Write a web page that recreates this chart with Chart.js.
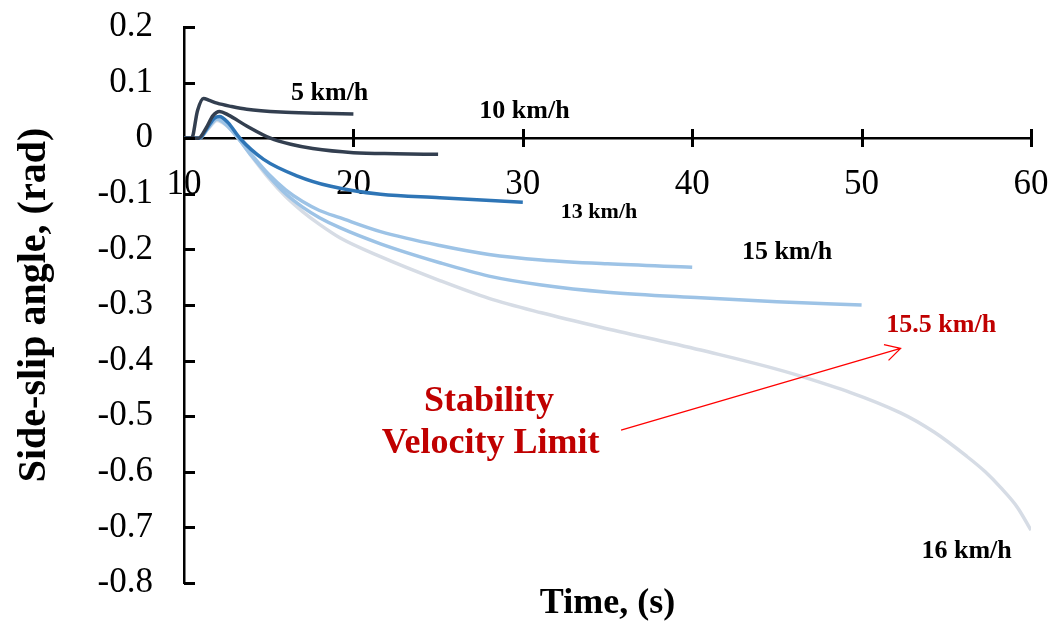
<!DOCTYPE html>
<html>
<head>
<meta charset="utf-8">
<script src="https://cdn.jsdelivr.net/npm/chart.js@4.4.1/dist/chart.umd.min.js"></script>
<style>
  body { margin: 0; background: #fff; }
  #wrap { width: 1058px; height: 626px; position: relative; }
</style>
</head>
<body>
<div id="wrap"><canvas id="slipChart"></canvas></div>
<script>
// time (s) and side-slip angle (rad) for each forward speed
const t5 = [10, 10.45, 10.8, 11.15, 11.5, 11.95, 12.8, 13.7, 15.7, 18, 20];
const b5 = [0, 0, 0.05, 0.0715, 0.068, 0.063, 0.057, 0.052, 0.047, 0.045, 0.0435];

const t10 = [10, 10.85, 11.3, 11.7, 12.1, 12.6, 13.7, 15.1, 16.3, 17.6, 20, 22.5, 25];
const b10 = [0, 0, 0.018, 0.04, 0.048, 0.042, 0.022, 0, -0.011, -0.0186, -0.026, -0.028, -0.029];

const t13 = [10, 10.9, 11.4, 11.8, 12.1, 12.6, 13.3, 14.7, 16.7, 18.6, 21.6, 25.1, 30];
const b13 = [0, 0, 0.02, 0.036, 0.039, 0.028, 0, -0.038, -0.068, -0.086, -0.101, -0.107, -0.115];

const t15 = [10, 10.9, 11.4, 11.95, 12.5, 13.2, 14, 15, 16, 17, 18, 19.2, 21.6, 25.1, 28, 31.1, 35, 40];
const b15 = [0, 0, 0.018, 0.036, 0.025, 0, -0.03, -0.065, -0.093, -0.114, -0.13, -0.143, -0.168, -0.193, -0.209, -0.219, -0.226, -0.232];

const t155 = [10, 10.9, 11.4, 11.95, 12.5, 13.2, 14, 15, 16, 17, 18, 19.2, 21.6, 25.1, 28, 31.1, 35, 40.5, 45, 50];
const b155 = [0, 0, 0.017, 0.034, 0.024, 0, -0.032, -0.068, -0.1, -0.124, -0.143, -0.161, -0.19, -0.224, -0.248, -0.264, -0.277, -0.287, -0.294, -0.3];

const t16 = [10, 10.9, 11.4, 11.95, 12.5, 13.2, 14, 15, 16, 17, 18, 19.2, 21.6, 25.1, 28, 31.1, 34.6, 40.5, 46.4, 52.3, 54.3, 56.2, 57.3, 58.2, 59.2, 60];
const b16 = [0, 0, 0.016, 0.032, 0.023, 0, -0.033, -0.072, -0.105, -0.132, -0.155, -0.179, -0.213, -0.256, -0.288, -0.314, -0.34, -0.381, -0.428, -0.494, -0.529, -0.572, -0.6, -0.628, -0.664, -0.705];

const xTicks = [10, 20, 30, 40, 50, 60];
const yTicks = [0.2, 0.1, 0, -0.1, -0.2, -0.3, -0.4, -0.5, -0.6, -0.7, -0.8];

const serif = "'Liberation Serif', 'Times New Roman', serif";

function pts(ts, bs) {
  return ts.map((t, i) => ({ x: t, y: bs[i] }));
}

function series(label, ts, bs, color) {
  return {
    label: label,
    data: pts(ts, bs),
    borderColor: color,
    borderWidth: 3.5,
    pointRadius: 0,
    cubicInterpolationMode: "monotone",
    fill: false,
  };
}

// curve labels, placed in data units
const notes = [
  { text: "5 km/h", x: 18.6, y: 0.081, size: 26, color: "#000" },
  { text: "10 km/h", x: 30.1, y: 0.049, size: 26, color: "#000" },
  { text: "13 km/h", x: 34.5, y: -0.133, size: 22, color: "#000" },
  { text: "15 km/h", x: 45.6, y: -0.206, size: 26, color: "#000" },
  { text: "15.5 km/h", x: 54.7, y: -0.336, size: 26, color: "#c00000" },
  { text: "16 km/h", x: 56.2, y: -0.743, size: 26, color: "#000" },
  { text: "Stability", x: 28.0, y: -0.474, size: 36, color: "#c00000" },
  { text: "Velocity Limit", x: 28.1, y: -0.550, size: 36, color: "#c00000" },
];

const arrow = { x1: 35.8, y1: -0.525, x2: 52.3, y2: -0.378 };

// drop the label overhang so the layout padding alone sets the plot box
function noOverhang(scale) {
  scale.paddingTop = 0;
  scale.paddingBottom = 0;
  scale.paddingLeft = 0;
  scale.paddingRight = 0;
}

const axisMarks = {
  id: "axisMarks",
  afterDraw(chart) {
    const { ctx, chartArea } = chart;
    const x = chart.scales.x;
    const y = chart.scales.y;
    ctx.save();

    // tick marks: crossing on the time axis, inward on the angle axis
    const y0 = Math.round(y.getPixelForValue(0));
    const x0 = Math.round(chartArea.left);
    ctx.fillStyle = "#000";
    for (let i = 1; i < xTicks.length; i++) {
      const px = Math.round(x.getPixelForValue(xTicks[i]));
      ctx.fillRect(px - 1, y0 - 9, 3, 18);
    }
    for (let i = 0; i < yTicks.length; i++) {
      const py = Math.round(y.getPixelForValue(yTicks[i]));
      ctx.fillRect(x0, py - 1, 11, 3);
    }

    ctx.textAlign = "center";
    ctx.textBaseline = "middle";
    notes.forEach((n) => {
      ctx.font = "bold " + n.size + "px " + serif;
      ctx.fillStyle = n.color;
      ctx.fillText(n.text, x.getPixelForValue(n.x), y.getPixelForValue(n.y));
    });

    // x axis title sits under the plot, not at the y = 0 axis line
    ctx.font = "bold 36px " + serif;
    ctx.fillStyle = "#000";
    ctx.fillText("Time, (s)", (chartArea.left + chartArea.right) / 2, chartArea.bottom + 21);

    // arrow to the 15.5 km/h label
    const ax1 = x.getPixelForValue(arrow.x1), ay1 = y.getPixelForValue(arrow.y1);
    const ax2 = x.getPixelForValue(arrow.x2), ay2 = y.getPixelForValue(arrow.y2);
    const ang = Math.atan2(ay2 - ay1, ax2 - ax1);
    ctx.strokeStyle = "#ff0000";
    ctx.lineWidth = 1.3;
    ctx.beginPath();
    ctx.moveTo(ax1, ay1);
    ctx.lineTo(ax2, ay2);
    ctx.moveTo(ax2 - 17 * Math.cos(ang - 0.5), ay2 - 17 * Math.sin(ang - 0.5));
    ctx.lineTo(ax2, ay2);
    ctx.lineTo(ax2 - 17 * Math.cos(ang + 0.5), ay2 - 17 * Math.sin(ang + 0.5));
    ctx.stroke();
    ctx.restore();
  },
};

new Chart(document.getElementById("slipChart").getContext("2d"), {
  type: "line",
  data: {
    datasets: [
      series("5 km/h", t5, b5, "#333f50"),
      series("10 km/h", t10, b10, "#333f50"),
      series("13 km/h", t13, b13, "#2e75b6"),
      series("15 km/h", t15, b15, "#9dc3e6"),
      series("15.5 km/h", t155, b155, "#9dc3e6"),
      series("16 km/h", t16, b16, "#d6dce5"),
    ],
  },
  options: {
    responsive: true,
    maintainAspectRatio: false,
    animation: false,
    layout: { padding: { left: 0, right: 27, top: 27, bottom: 43 } },
    plugins: {
      legend: { display: false },
      tooltip: { enabled: false },
    },
    scales: {
      x: {
        type: "linear",
        min: 10,
        max: 60,
        position: { y: 0 },
        afterBuildTicks: (scale) => {
          scale.ticks = xTicks.map((v) => ({ value: v }));
        },
        afterFit: noOverhang,
        grid: { display: false, drawTicks: false },
        border: { display: true, color: "#000", width: 2.5 },
        ticks: {
          color: "#000",
          font: { family: serif, size: 35 },
          padding: 26,
          maxRotation: 0,
          autoSkip: false,
        },
      },
      y: {
        type: "linear",
        min: -0.8,
        max: 0.2,
        afterBuildTicks: (scale) => {
          scale.ticks = yTicks.map((v) => ({ value: v }));
        },
        afterFit: (scale) => {
          noOverhang(scale);
          scale.width = 184;
        },
        grid: { display: false, drawTicks: false },
        border: { display: true, color: "#000", width: 2.5 },
        ticks: {
          color: "#000",
          font: { family: serif, size: 35 },
          padding: 31,
          callback: (v) => String(Number(v.toFixed(1))),
        },
        title: {
          display: true,
          text: "Side-slip angle, (rad)",
          color: "#000",
          font: { family: serif, size: 40, weight: "bold" },
          padding: { top: 11, bottom: 0 },
        },
      },
    },
  },
  plugins: [axisMarks],
});
</script>
</body>
</html>
